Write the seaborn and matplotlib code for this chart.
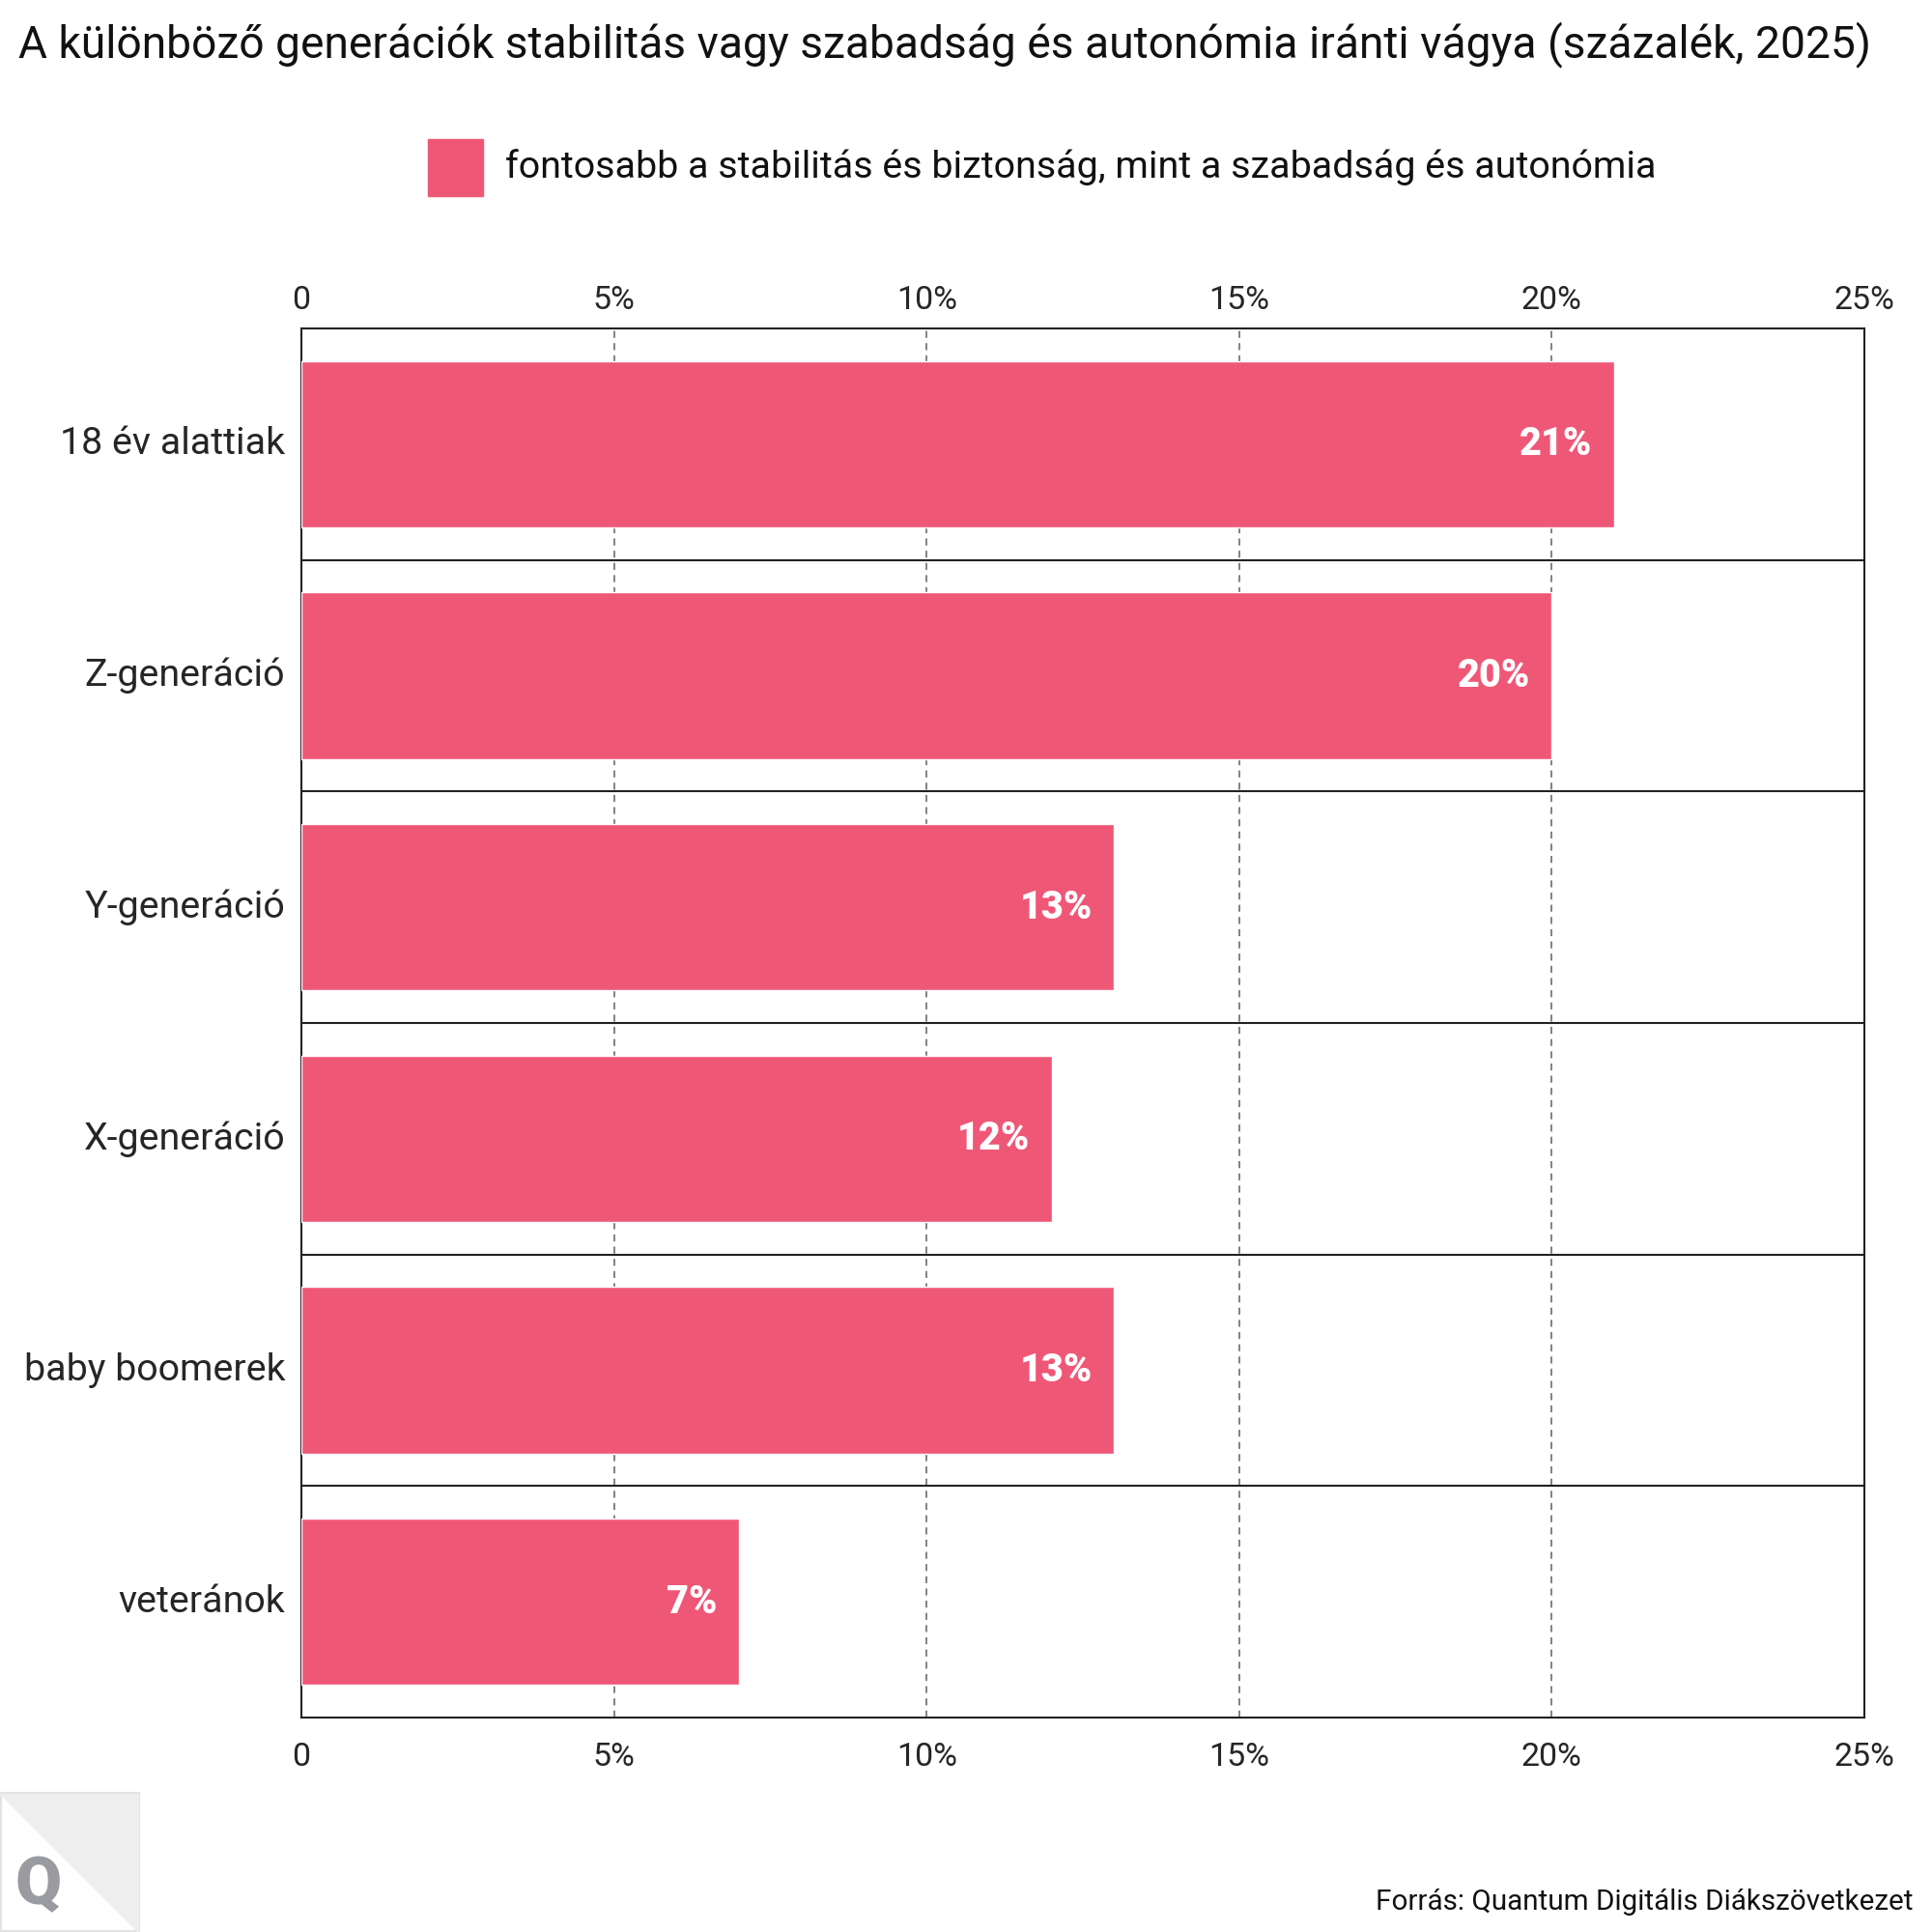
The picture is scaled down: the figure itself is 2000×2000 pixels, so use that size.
import pandas as pd
import matplotlib.pyplot as plt
import matplotlib.patches as mpatches
import seaborn as sns

sns.set_theme(style="white")
plt.rcParams["font.family"] = ["Roboto", "DejaVu Sans"]

# data
categories = ["18 év alattiak", "Z-generáció", "Y-generáció", "X-generáció", "baby boomerek", "veteránok"]
values = [21, 20, 13, 12, 13, 7]
x_ticks = [0, 5, 10, 15, 20, 25]
x_tick_labels = ["0", "5%", "10%", "15%", "20%", "25%"]

bar_color = "#EF5777"
title = "A különböző generációk stabilitás vagy szabadság és autonómia iránti vágya (százalék, 2025)"
legend_label = "fontosabb a stabilitás és biztonság, mint a szabadság és autonómia"
source = "Forrás: Quantum Digitális Diákszövetkezet"

df = pd.DataFrame({"kategoria": categories, "ertek": values})

fig = plt.figure(figsize=(20, 20), dpi=100)
ax = fig.add_axes([0.156, 0.111, 0.809, 0.719])

sns.barplot(data=df, x="ertek", y="kategoria", orient="h", color=bar_color,
            saturation=1, width=0.72, ax=ax, zorder=3)

ax.set_xlim(0, 25)
ax.set_ylim(len(categories) - 0.5, -0.5)
ax.set_xticks(x_ticks)
ax.set_xticklabels(x_tick_labels, fontsize=24.5)
ax.tick_params(axis="x", length=0, pad=18)
ax.tick_params(axis="y", length=0, labelsize=28.4, pad=12)
for lab in ax.get_yticklabels():
    lab.set_va("center")
ax.set_xlabel("")
ax.set_ylabel("")

# top axis labels
top = ax.secondary_xaxis("top")
top.set_xticks(x_ticks)
top.set_xticklabels(x_tick_labels, fontsize=24.5)
top.tick_params(length=0, pad=9.5)
for s in top.spines.values():
    s.set_visible(False)

# dashed vertical gridlines
for t in x_ticks[1:-1]:
    ax.axvline(t, color="#777777", lw=1.3, ls=(0, (4, 3)), zorder=1)
# solid row separators
for i in range(1, len(categories)):
    ax.axhline(i - 0.5, color="#222222", lw=1.5, zorder=2)

for s in ax.spines.values():
    s.set_color("#222222")
    s.set_linewidth(1.5)

# value labels inside bars
for i, v in enumerate(values):
    ax.text(v - 0.35, i, f"{v}%", ha="right", va="center", color="white",
            fontsize=28.5, fontweight="heavy", zorder=4)

fig.text(0.0095, 0.977, title, fontsize=33.2, ha="left", va="center", color="#111111")

# legend
fig.patches.append(mpatches.Rectangle((0.2215, 0.8985), 0.0285, 0.0295,
                                      transform=fig.transFigure, color=bar_color))
fig.text(0.2615, 0.9135, legend_label, fontsize=28.4, ha="left", va="center", color="#111111")

fig.text(0.99, 0.0155, source, fontsize=21.3, ha="right", va="center", color="#111111")

# Q logo in the corner
fig.patches.append(mpatches.Rectangle((0, 0), 0.0715, 0.0715, transform=fig.transFigure,
                                      facecolor="white", edgecolor="#e3e3e3", lw=3))
fig.patches.append(mpatches.Polygon([(0, 0.0715), (0.0715, 0.0715), (0.0715, 0)], closed=True,
                                    transform=fig.transFigure, color="#eeeeee"))
fig.text(0.0195, 0.0235, "Q", fontsize=50, fontweight="black", color="#999ba0",
         ha="center", va="center")

fig.savefig("out.png", dpi=100)
